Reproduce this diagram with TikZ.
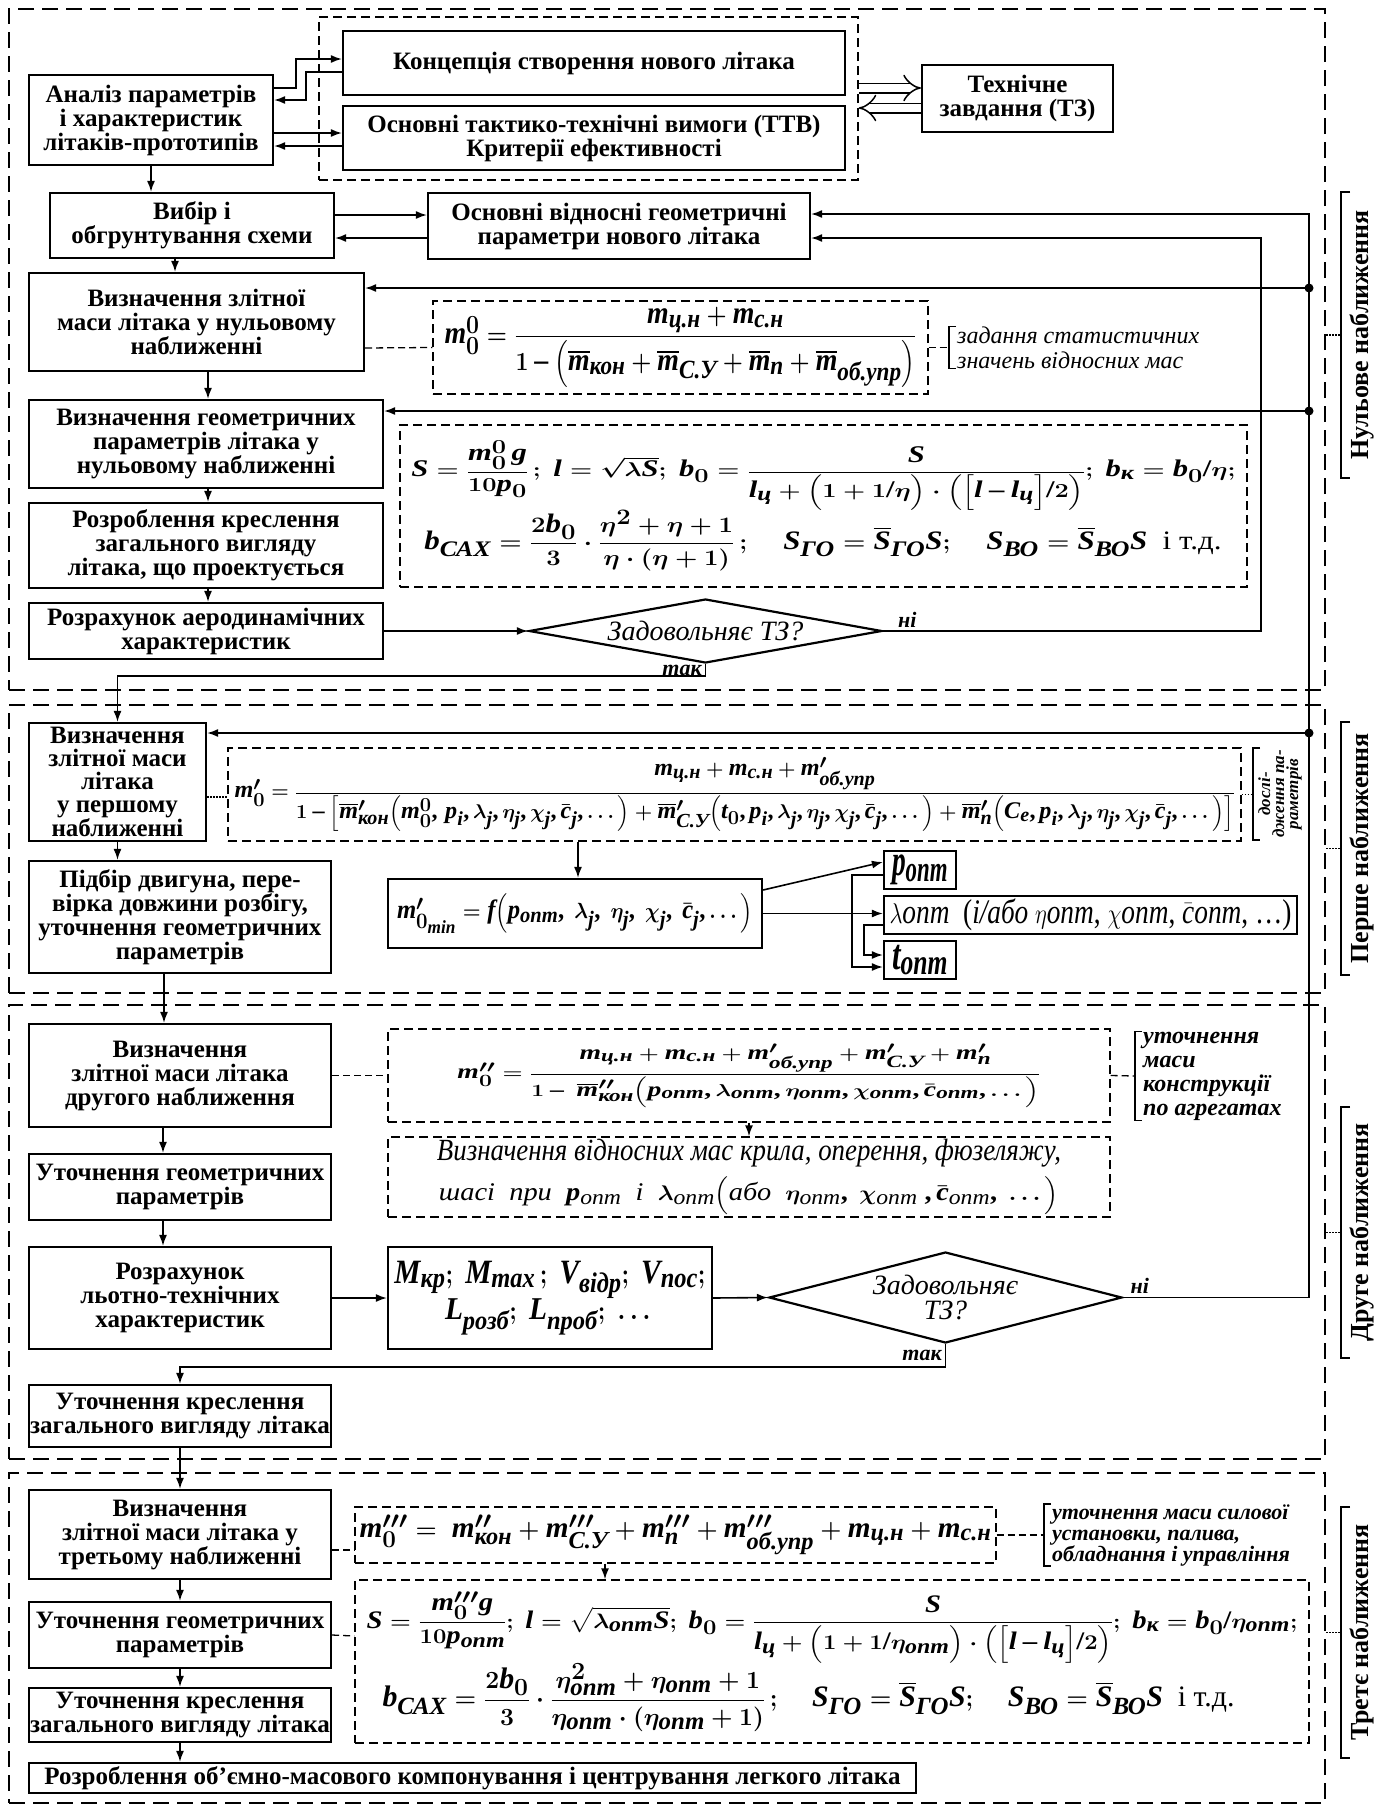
\documentclass[tikz,border=0pt]{standalone}
\usepackage{amsmath}
\usepackage{graphicx}
\usepackage{fontspec}
\setmainfont{Liberation Serif}
\usepackage[italic]{mathastext}
\usetikzlibrary{arrows.meta,shapes.geometric,calc}

\newcommand{\cy}[1]{\text{\itshape #1}}
\newcommand{\fitf}[3]{\resizebox*{#1pt}{#2pt}{#3}}
\newcommand{\boxfont}{\fontsize{25}{24}\selectfont\bfseries}
\newcommand{\frmfont}{\fontsize{30}{30}\selectfont\bfseries\boldmath}
\newcommand{\annfont}{\fontsize{24}{25}\selectfont\itshape}
\newcommand{\decfont}{\fontsize{28}{25}\selectfont\itshape}
\newcommand{\lblfont}{\fontsize{22}{22}\selectfont\bfseries\itshape}
\newcommand{\secfont}{\fontsize{26}{26}\selectfont\bfseries}
\newcommand{\brkt}[1]{\draw[brk] ([xshift=-1pt]#1.north west) -- ([xshift=-8pt]#1.north west) -- ([xshift=-8pt]#1.south west) -- ([xshift=-1pt]#1.south west);}

\begin{document}
\begin{tikzpicture}[x=1pt, y=-1pt,
  box/.style={draw, line width=2.2pt, align=center, inner sep=0pt, font=\boxfont},
  frm/.style={draw, line width=1.3pt, dash pattern=on 9pt off 5pt, inner sep=0pt, font=\frmfont},
  sect/.style={draw, line width=2pt, dash pattern=on 16pt off 8pt, inner sep=0pt},
  dec/.style={diamond, draw, line width=2.2pt, inner sep=0pt, align=center, font=\decfont},
  arr/.style={line width=1.6pt, -{Latex[length=11pt,width=8pt]}},
  lnk/.style={line width=1.3pt, dash pattern=on 7pt off 4pt},
  dlnk/.style={line width=1.3pt, dash pattern=on 1.5pt off 1.5pt},
  hol/.style={double, double distance=8pt, line width=1.5pt, -{Implies}},
  brk/.style={line width=1.3pt},
  ann/.style={inner sep=0pt, align=left, font=\annfont},
  lbl/.style={font=\lblfont, inner sep=3pt},
  seclab/.style={rotate=90, font=\secfont, inner sep=0pt}]
\useasboundingbox (0,0) rectangle (1383,1807);

\node (sec0) [sect, minimum width=1316pt, minimum height=681pt] at (667,349.5) {};
\node (sec1) [sect, minimum width=1316pt, minimum height=288pt] at (667,849) {};
\node (sec2) [sect, minimum width=1316pt, minimum height=454pt] at (667,1232) {};
\node (sec3) [sect, minimum width=1316pt, minimum height=330pt] at (667,1638) {};

\foreach \n/\y/\h/\txt in {0/335/143/Нульове наближення, 1/848.5/126.5/Перше наближення, 2/1232.5/125.5/Друге наближення, 3/1632.5/125.5/Третє наближення} {
  \coordinate (br\n) at (1341,\y);
  \node (lab\n) [seclab] at (1362,\y) {\txt};
  \draw[brk] ([shift={(9,-\h)}]br\n) -- ([shift={(0,-\h)}]br\n) -- ([shift={(0,\h)}]br\n) -- ([shift={(9,\h)}]br\n);
  \draw[dlnk] (sec\n.east |- br\n) -- (br\n);
}

\node (analiz) [box, minimum width=244pt, minimum height=90pt] at (151,120) {Аналіз параметрів\\і характеристик\\літаків-прототипів};
\node (grp) [frm, minimum width=539pt, minimum height=163pt] at (588.5,98.5) {};
\node (konc) [box, minimum width=502pt, minimum height=64pt] at (594,63) {Концепція створення нового літака};
\node (ttv) [box, minimum width=502pt, minimum height=64pt] at (594,138) {Основні тактико-технічні вимоги (ТТВ)\\Критерії ефективності};
\node (tz) [box, minimum width=191pt, minimum height=67pt] at (1017.5,98.5) {Технічне\\завдання (ТЗ)};
\node (vybir) [box, minimum width=284pt, minimum height=65pt] at (192,225.5) {Вибір і\\обгрунтування схеми};
\node (vidn) [box, minimum width=382pt, minimum height=66pt] at (619,226) {Основні відносні геометричні\\параметри нового літака};
\node (masa0) [box, minimum width=335pt, minimum height=98pt] at (196.5,322) {Визначення злітної\\маси літака у нульовому\\наближенні};
\node (f0) [frm, minimum width=495pt, minimum height=93pt] at (680.5,347.5) {\fitf{472}{80}{$m_0^0=\dfrac{m_{\cy{ц.н}}+m_{\cy{с.н}}}{1-\Bigl(\overline{m}_{\cy{кон}}+\overline{m}_{\cy{С.У}}+\overline{m}_{\cy{п}}+\overline{m}_{\cy{об.упр}}\Bigr)}$}};
\node (ann0) [ann, anchor=west, font=\annfont\mdseries] at (957,347.5) {задання статистичних\\значень відносних мас};
\node (geom0) [box, minimum width=354pt, minimum height=88pt] at (206,444) {Визначення геометричних\\параметрів літака у\\нульовому наближенні};
\node (f1) [frm, minimum width=847pt, minimum height=162pt] at (823.5,506) {\begin{tabular}{@{}l@{}}
\fitf{824}{70}{$S=\dfrac{m_0^0\,g}{10p_0}\,;\ l=\sqrt{\lambda S};\ b_0=\dfrac{S}{l_{\cy{ц}}+\Bigl(1+1/\eta\Bigr)\cdot\Bigl(\Bigl[l-l_{\cy{ц}}\Bigr]/2\Bigr)};\ b_{\cy{к}}=b_0/\eta;$}\\[4pt]
\hspace{13pt}\fitf{797}{61}{$b_{\cy{САХ}}=\dfrac{2b_0}{3}\cdot\dfrac{\eta^2+\eta+1}{\eta\cdot(\eta+1)}\,;\quad S_{\cy{ГО}}=\overline{S}_{\cy{ГО}}S;\quad S_{\cy{ВО}}=\overline{S}_{\cy{ВО}}S$\ \ \textup{\mdseries і т.д.}}
\end{tabular}};
\node (kresl0) [box, minimum width=354pt, minimum height=85pt] at (206,545.5) {Розроблення креслення\\загального вигляду\\літака, що проектується};
\node (aero) [box, minimum width=354pt, minimum height=56pt] at (206,631) {Розрахунок аеродинамічних\\характеристик};
\node (dia0) [dec, aspect=6, minimum width=353pt, minimum height=64pt] at (705.5,631) {Задовольняє ТЗ?};

\node (masa1) [box, minimum width=177pt, minimum height=118pt, font=\fontsize{25}{23}\selectfont\bfseries] at (117.5,782) {Визначення\\злітної маси\\літака\\у першому\\наближенні};
\node (f2) [frm, minimum width=1013pt, minimum height=93pt] at (734.5,794.5) {\fitf{1000}{74}{$m_0'=\dfrac{m_{\cy{ц.н}}+m_{\cy{с.н}}+m'_{\cy{об.упр}}}{1-\Bigl[\overline{m}'_{\cy{кон}}\Bigl(m_0^0,\,p_i,\lambda_j,\eta_j,\chi_j,\bar c_j,\dots\Bigr)+\overline{m}'_{\cy{С.У}}\Bigl(t_0,p_i,\lambda_j,\eta_j,\chi_j,\bar c_j,\dots\Bigr)+\overline{m}'_{\cy{п}}\Bigl(C_e,p_i,\lambda_j,\eta_j,\chi_j,\bar c_j,\dots\Bigr)\Bigr]}$}};
\node (ann1) [ann, rotate=90, anchor=north, inner xsep=2pt, inner ysep=5pt, align=center, font=\fontsize{17}{14}\selectfont\bfseries\itshape] at (1253,794) {дослі-\\дження па-\\раметрів};
\node (pidbir) [box, minimum width=302pt, minimum height=112pt] at (180,917) {Підбір двигуна, пере-\\вірка довжини розбігу,\\уточнення геометричних\\параметрів};
\node (mmin) [box, minimum width=374pt, minimum height=69pt, font=\frmfont] at (575,913.5) {\fitf{356}{40}{$m'_{0_{min}}=f\Bigl(p_{\cy{опт}},\ \lambda_j,\ \eta_j,\ \chi_j,\ \bar c_j,\dots\Bigr)$}};
\node (popt) [box, minimum width=72pt, minimum height=38pt, font=\frmfont] at (920,870) {\fitf{56}{30}{$p_{\cy{опт}}$}};
\node (lopt) [box, minimum width=413pt, minimum height=38pt, font=\fontsize{30}{30}\selectfont] at (1090.5,915) {\fitf{402}{32}{$\lambda$\textit{опт}\ \ (\textit{і/або} $\eta$\textit{опт}, $\chi$\textit{опт}, $\bar{c}$\textit{опт}, \dots)}};
\node (topt) [box, minimum width=72pt, minimum height=38pt, font=\frmfont] at (920,960) {\fitf{56}{30}{$t_{\cy{опт}}$}};

\node (masa2) [box, minimum width=302pt, minimum height=103pt] at (180,1075.5) {Визначення\\злітної маси літака\\другого наближення};
\node (f3) [frm, minimum width=722pt, minimum height=93pt] at (749,1075.5) {\fitf{583}{64}{$m_0''=\dfrac{m_{\cy{ц.н}}+m_{\cy{с.н}}+m'_{\cy{об.упр}}+m'_{\cy{С.У}}+m'_{\cy{п}}}{1-\ \overline{m}''_{\cy{кон}}\Bigl(p_{\cy{опт}},\lambda_{\cy{опт}},\eta_{\cy{опт}},\chi_{\cy{опт}},\bar c_{\cy{опт}},\dots\Bigr)}$}};
\node (ann2) [ann, anchor=west, font=\fontsize{24}{24}\selectfont\bfseries\itshape] at (1143,1076) {уточнення\\маси\\конструкції\\по агрегатах};
\node (geom2) [box, minimum width=302pt, minimum height=66pt] at (180,1187) {Уточнення геометричних\\параметрів};
\node (vm) [frm, minimum width=722pt, minimum height=80pt] at (749,1177) {\begin{tabular}{@{}c@{}}
\fitf{624}{28}{\itshape\mdseries Визначення відносних мас крила, оперення, фюзеляжу,}\\[7pt]
\fitf{620}{38}{\itshape\mdseries шасі\ \ при\ \ $p_{\cy{опт}}$\ \ і\ \ $\lambda_{\cy{опт}}\Bigl(\text{або}\ \ \eta_{\cy{опт}},\ \chi_{\cy{опт}}\ ,\bar c_{\cy{опт}},\ \dots\Bigr)$}
\end{tabular}};
\node (ltx) [box, minimum width=302pt, minimum height=102pt] at (180,1298) {Розрахунок\\льотно-технічних\\характеристик};
\node (mbox) [box, minimum width=324pt, minimum height=102pt, font=\frmfont] at (550,1298) {\begin{tabular}{@{}c@{}}
\fitf{311}{38}{$M_{\cy{кр}};\ M_{max}\,;\ V_{\cy{відр}};\ V_{\cy{пос}};$}\\[6pt]
\fitf{210}{36}{$L_{\cy{розб}};\ L_{\cy{проб}};\ \dots$}
\end{tabular}};
\node (dia2) [dec, aspect=3.9, minimum width=353pt, minimum height=91pt] at (945.5,1297.5) {Задовольняє\\ТЗ?};
\node (kresl2) [box, minimum width=302pt, minimum height=62pt] at (180,1416) {Уточнення креслення\\загального вигляду літака};

\node (masa3) [box, minimum width=302pt, minimum height=89pt] at (180,1534.5) {Визначення\\злітної маси літака у\\третьому наближенні};
\node (f4) [frm, minimum width=641pt, minimum height=56pt] at (675.5,1535) {\fitf{632}{40}{$m_0'''=\ m''_{\cy{кон}}+m'''_{\cy{С.У}}+m'''_{\cy{п}}+m'''_{\cy{об.упр}}+m_{\cy{ц.н}}+m_{\cy{с.н}}$}};
\node (ann3) [ann, anchor=west, font=\fontsize{22}{21}\selectfont\bfseries\itshape] at (1052,1535) {уточнення маси силової\\установки, палива,\\обладнання і управління};
\node (geom3) [box, minimum width=302pt, minimum height=66pt] at (180,1635) {Уточнення геометричних\\параметрів};
\node (f5) [frm, minimum width=954pt, minimum height=163pt] at (832,1661.5) {\begin{tabular}{@{}l@{}}
\fitf{931}{72}{$S=\dfrac{m_0'''g}{10p_{\cy{опт}}};\ l=\sqrt{\lambda_{\cy{опт}}S};\ b_0=\dfrac{S}{l_{\cy{ц}}+\Bigl(1+1/\eta_{\cy{опт}}\Bigr)\cdot\Bigl(\Bigl[l-l_{\cy{ц}}\Bigr]/2\Bigr)};\ b_{\cy{к}}=b_0/\eta_{\cy{опт}};$}\\[4pt]
\hspace{16pt}\fitf{852}{68}{$b_{\cy{САХ}}=\dfrac{2b_0}{3}\cdot\dfrac{\eta_{\cy{опт}}^2+\eta_{\cy{опт}}+1}{\eta_{\cy{опт}}\cdot(\eta_{\cy{опт}}+1)}\,;\quad S_{\cy{ГО}}=\overline{S}_{\cy{ГО}}S;\quad S_{\cy{ВО}}=\overline{S}_{\cy{ВО}}S$\ \ \textup{\mdseries і т.д.}}
\end{tabular}};
\node (kresl3) [box, minimum width=302pt, minimum height=54pt] at (180,1715) {Уточнення креслення\\загального вигляду літака};
\node (komp) [box, minimum width=887pt, minimum height=30pt] at (472.5,1778) {Розроблення об’ємно-масового компонування і центрування легкого літака};

\brkt{ann0}
\brkt{ann2}
\brkt{ann3}
\draw[brk] ([xshift=7pt]ann1.north east) -- (ann1.north east) -- (ann1.north west) -- ([xshift=7pt]ann1.north west);

\coordinate (c0) at (1261,631);
\coordinate (c1) at (1309,1297.5);
\coordinate (j1) at (1309,288);
\coordinate (j2) at (1309,411);
\coordinate (j3) at (1309,733);

\draw[arr] ([yshift=32pt]analiz.east) -- ++(22,0) |- ([yshift=4pt]konc.west);
\draw[arr] ([yshift=-9pt]konc.west) -- ++(-36,0) |- ([yshift=20pt]analiz.east);
\draw[arr] ([yshift=-13pt]analiz.east) to ([yshift=5pt]ttv.west);
\draw[arr] ([yshift=-8pt]ttv.west) to ([yshift=-26pt]analiz.east);
\draw[hol] ([yshift=10.5pt]grp.east) to ([yshift=10.5pt]tz.west);
\draw[hol] ([yshift=-9.5pt]tz.west) to ([yshift=-9.5pt]grp.east);
\draw[arr] (analiz.south) to (analiz.south |- vybir.north);
\draw[arr] ([yshift=10.5pt]vybir.east) to ([yshift=11pt]vidn.west);
\draw[arr] ([yshift=-12pt]vidn.west) to ([yshift=-12.5pt]vybir.east);
\draw[arr] ([xshift=-17pt]vybir.south) to ([xshift=-21.5pt]masa0.north);
\draw[lnk] ([yshift=-26pt]masa0.east) to (f0.west);
\draw[lnk] (f0.east) to ([xshift=-8pt]ann0.west);
\draw[arr] ([xshift=11.5pt]masa0.south) to ([xshift=2pt]geom0.north);
\draw[arr] ([xshift=2pt]geom0.south) to ([xshift=2pt]kresl0.north);
\draw[arr] ([xshift=2pt]kresl0.south) to ([xshift=2pt]aero.north);
\draw[arr] (aero.east) to (dia0.west);
\draw[arr] (dia0.east) -- node[lbl, above right, pos=0.03]{ні} (c0) |- ([yshift=-12pt]vidn.east);
\draw[arr] (dia0.south) -- node[lbl, left]{так} ++(0,12) -| (masa1.north);
\draw[arr] (dia2.east) -- node[lbl, above right, pos=0.02]{ні} (c1) |- ([yshift=12pt]vidn.east);
\foreach \j in {j1,j2,j3} \fill (\j) circle (4.5pt);
\draw[arr] (j1) to ([yshift=34pt]masa0.east);
\draw[arr] (j2) to ([yshift=33pt]geom0.east);
\draw[arr] (j3) to ([yshift=49pt]masa1.east);

\draw[arr] (masa1.south) to ([xshift=-62.5pt]pidbir.north);
\draw[dlnk] ([yshift=-15pt]masa1.east) to ([yshift=-2.5pt]f2.west);
\draw[dlnk] (f2.east) to (f2.east -| ann1.north);
\draw[arr] ([xshift=-156.5pt]f2.south) to ([xshift=3pt]mmin.north);
\draw[arr] ([yshift=23.5pt]mmin.east) to ([yshift=8pt]popt.west);
\draw[arr] (mmin.east) to (mmin.east -| lopt.west);
\draw[arr] ([yshift=-5pt]popt.west) -- ++(-31,0) |- ([yshift=-7pt]topt.west);
\draw[arr] ([yshift=-10pt]lopt.west) -- ++(-19,0) |- ([yshift=5pt]topt.west);
\draw[arr] ([xshift=-16pt]pidbir.south) to ([xshift=-16pt]masa2.north);

\draw[lnk] (masa2.east) to (f3.west);
\draw[lnk] (f3.east) to ([xshift=-8pt]ann2.west);
\draw[arr] (f3.south) to (vm.north);
\draw[arr] ([xshift=-17pt]masa2.south) to ([xshift=-17pt]geom2.north);
\draw[arr] ([xshift=-17pt]geom2.south) to ([xshift=-17pt]ltx.north);
\draw[arr] (ltx.east) to (mbox.west);
\draw[arr] (mbox.east) to (dia2.west);
\draw[arr] (dia2.south) -- node[lbl, left]{так} ++(0,23) -| (kresl2.north);
\draw[arr] (kresl2.south) to (masa3.north);

\draw[lnk] ([yshift=-15.5pt]masa3.east) to ([yshift=-15pt]f4.west);
\draw[lnk] (f4.east) to ([xshift=-8pt]ann3.west);
\draw[arr] ([xshift=-70.5pt]f4.south) to ([xshift=-227pt]f5.north);
\draw[lnk] (geom3.east) to ([yshift=25.5pt]f5.west);
\draw[arr] (masa3.south) to (geom3.north);
\draw[arr] (geom3.south) to (kresl3.north);
\draw[arr] (kresl3.south) to (kresl3.south |- komp.north);
\end{tikzpicture}
\end{document}
